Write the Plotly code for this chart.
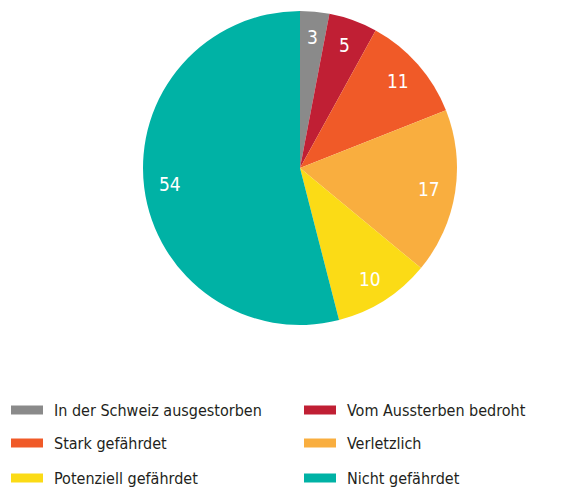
import math
import plotly.graph_objects as go

categories = ["In der Schweiz ausgestorben", "Vom Aussterben bedroht", "Stark gefährdet",
              "Verletzlich", "Potenziell gefährdet", "Nicht gefährdet"]
values = [3, 5, 11, 17, 10, 54]
colors = ["#8a8a8a", "#c01f34", "#f05a28", "#f9ae3f", "#fbdb16", "#00b2a5"]

W, H = 587, 488
FONT = "DejaVu Sans Condensed, Liberation Sans Narrow, Arial Narrow, sans-serif"

CX, CY, R = 300, 168, 157
fig = go.Figure(go.Pie(
    labels=categories, values=values, sort=False, direction="clockwise", rotation=0,
    marker=dict(colors=colors, line=dict(width=0)),
    textinfo="none",
    domain=dict(x=[(CX - R) / W, (CX + R) / W], y=[1 - (CY + R) / H, 1 - (CY - R) / H]),
    showlegend=False, hoverinfo="label+value",
))

annotations, shapes = [], []
# value labels at ~0.83 of the radius, at each slice's mid-angle
total = sum(values)
cum = 0
for v in values:
    mid = (cum + v / 2) / total * 2 * math.pi
    cum += v
    x = CX + 0.835 * R * math.sin(mid)
    y = CY - 0.835 * R * math.cos(mid)
    annotations.append(dict(text=str(v), xref="paper", yref="paper", x=x / W, y=1 - y / H,
                            xanchor="center", yanchor="middle", showarrow=False,
                            font=dict(size=19, color="white", family=FONT)))

# legend drawn as 2 columns x 3 rows
col_x = [11, 304]
row_y = [410, 443, 478]
for i, (cat, col) in enumerate(zip(categories, colors)):
    cx = col_x[i % 2]
    cy = row_y[i // 2]
    shapes.append(dict(type="rect", xref="paper", yref="paper",
                       x0=cx / W, x1=(cx + 32) / W,
                       y0=1 - (cy + 4.5) / H, y1=1 - (cy - 4.5) / H,
                       fillcolor=col, line=dict(width=0)))
    annotations.append(dict(text=cat, xref="paper", yref="paper",
                            x=(cx + 41) / W, y=1 - cy / H, xanchor="left", yanchor="middle",
                            showarrow=False, font=dict(size=16, color="#231f20", family=FONT)))

fig.update_layout(width=W, height=H, margin=dict(l=0, r=0, t=0, b=0),
                  paper_bgcolor="white", plot_bgcolor="white",
                  shapes=shapes, annotations=annotations)
fig.write_html("out.html", config={"displayModeBar": False},
               post_script="document.body.style.margin='0';")
